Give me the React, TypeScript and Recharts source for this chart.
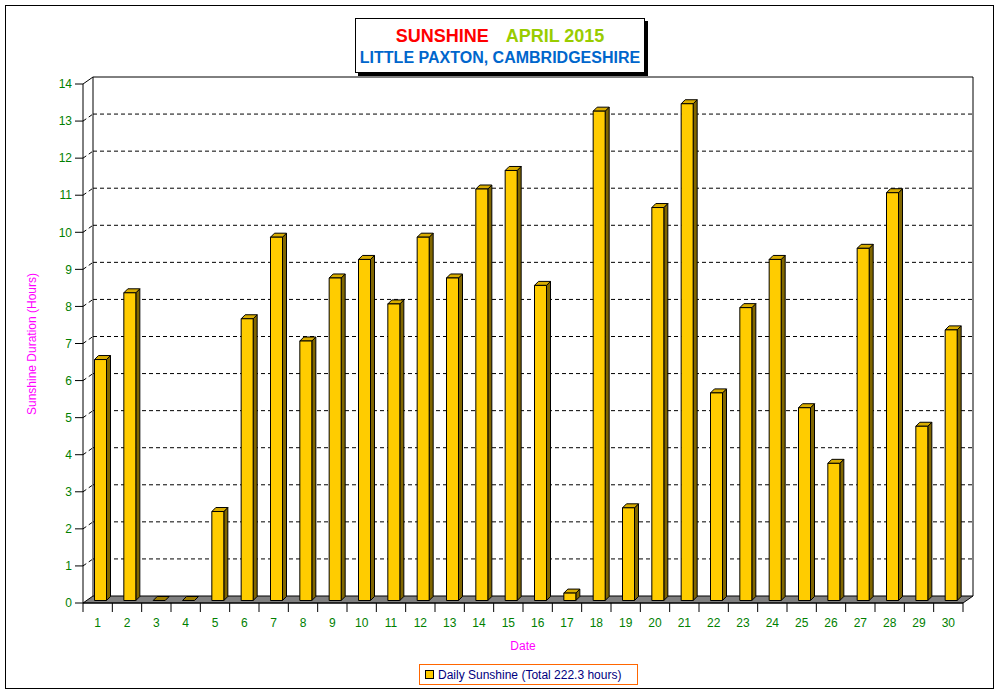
import React from "react";
import {
  BarChart,
  Bar,
  XAxis,
  YAxis,
  CartesianGrid,
  Legend,
} from "recharts";

const days = [
  "1", "2", "3", "4", "5", "6", "7", "8", "9", "10",
  "11", "12", "13", "14", "15", "16", "17", "18", "19", "20",
  "21", "22", "23", "24", "25", "26", "27", "28", "29", "30",
];

// daily sunshine hours
const sunshine = [
  6.5, 8.3, 0, 0, 2.4, 7.6, 9.8, 7.0, 8.7, 9.2,
  8.0, 9.8, 8.7, 11.1, 11.6, 8.5, 0.2, 13.2, 2.5, 10.6,
  13.4, 5.6, 7.9, 9.2, 5.2, 3.7, 9.5, 11.0, 4.7, 7.3,
];

const yTicks = [0, 1, 2, 3, 4, 5, 6, 7, 8, 9, 10, 11, 12, 13, 14];

const seriesName = "Daily Sunshine (Total 222.3 hours)";

const data = days.map((d, i) => ({ day: d, hours: sunshine[i] }));

// layout
const W = 1001;
const H = 694;
const PLOT_LEFT = 83;
const PLOT_RIGHT = 963;
const PLOT_TOP = 84;
const PLOT_BOTTOM = 603;
const DX = 10; // back wall offset
const DY = 7;
const BAND = (PLOT_RIGHT - PLOT_LEFT) / days.length;
const FONT = "'Liberation Sans', Arial, sans-serif";
const GREEN = "#008000";
const MAGENTA = "#FF00FF";

// 3D-looking bar: front face, top face, side face
function Bar3D(props: any) {
  const { x = 0, y = 0, width = 0, height = 0 } = props;
  const d = 4;
  const X = x + 2.5;
  const top = y - 2.5;
  const bottom = y + height - 2.5;
  const h = bottom - top;
  const flat = h < 1;
  return (
    <g stroke="#000" strokeWidth={1} strokeLinejoin="round">
      {!flat && (
        <polygon
          points={`${X + width},${top} ${X + width + d},${top - d} ${X + width + d},${bottom - d} ${X + width},${bottom}`}
          fill="#806600"
        />
      )}
      <polygon
        points={`${X},${top} ${X + d},${top - d} ${X + width + d},${top - d} ${X + width},${top}`}
        fill={flat ? "#9C7C00" : "#D9AD00"}
      />
      {!flat && <rect x={X} y={top} width={width} height={h} fill="#FFCC00" />}
    </g>
  );
}

// grid on the back wall, plus the wall outline and grey floor
function GridLine(p: any) {
  const { y1 } = p;
  if (Math.abs(y1 - PLOT_BOTTOM) < 1) {
    return (
      <g key={p.key}>
        <line x1={PLOT_LEFT + DX} y1={PLOT_TOP - DY} x2={PLOT_LEFT + DX} y2={PLOT_BOTTOM - DY} stroke="#000" />
        <line x1={PLOT_RIGHT + DX} y1={PLOT_TOP - DY} x2={PLOT_RIGHT + DX} y2={PLOT_BOTTOM - DY} stroke="#000" />
        <polygon
          points={`${PLOT_LEFT},${PLOT_BOTTOM} ${PLOT_RIGHT},${PLOT_BOTTOM} ${PLOT_RIGHT + DX},${PLOT_BOTTOM - DY} ${PLOT_LEFT + DX},${PLOT_BOTTOM - DY}`}
          fill="#808080"
          stroke="#000"
        />
      </g>
    );
  }
  const solid = Math.abs(y1 - PLOT_TOP) < 1;
  const dash = solid ? undefined : "4 3";
  return (
    <g key={p.key}>
      <line x1={PLOT_LEFT} y1={y1} x2={PLOT_LEFT + DX} y2={y1 - DY} stroke="#000" strokeDasharray={dash} />
      <line x1={PLOT_LEFT + DX} y1={y1 - DY} x2={PLOT_RIGHT + DX} y2={y1 - DY} stroke="#000" strokeDasharray={dash} />
    </g>
  );
}

function XTick(props: any) {
  const { x, payload, index } = props;
  const half = BAND / 2;
  return (
    <g>
      <line x1={x - half} y1={PLOT_BOTTOM} x2={x - half} y2={PLOT_BOTTOM + 9} stroke="#000" />
      {index === days.length - 1 && (
        <line x1={x + half} y1={PLOT_BOTTOM} x2={x + half} y2={PLOT_BOTTOM + 9} stroke="#000" />
      )}
      <text x={x} y={627} textAnchor="middle" fill={GREEN} fontSize={12} fontFamily={FONT}>
        {payload.value}
      </text>
    </g>
  );
}

function LegendBox() {
  return (
    <div
      style={{
        border: "1px solid #FF6600",
        height: 21,
        display: "flex",
        alignItems: "center",
        fontFamily: FONT,
        fontSize: 12,
        color: "#000080",
        boxSizing: "border-box",
        width: 219,
        paddingLeft: 5,
      }}
    >
      <span
        style={{
          display: "inline-block",
          width: 7,
          height: 7,
          background: "#FFCC00",
          border: "1px solid #000",
          marginRight: 4,
        }}
      />
      {seriesName}
    </div>
  );
}

export default function App() {
  return (
    <div style={{ position: "absolute", left: 0, top: 0, width: W, height: H, background: "#fff" }}>
      <div
        style={{
          position: "absolute",
          left: 5,
          top: 5,
          width: 989,
          height: 684,
          border: "1px solid #000",
          boxSizing: "border-box",
        }}
      />
      <div
        style={{
          position: "absolute",
          left: 355,
          top: 18,
          width: 290,
          height: 55,
          border: "1px solid #000",
          boxShadow: "3px 3px 0 #000",
          boxSizing: "border-box",
          background: "#fff",
          fontFamily: FONT,
          fontWeight: "bold",
          textAlign: "center",
        }}
      >
        <div style={{ fontSize: 18, lineHeight: "20px", marginTop: 7 }}>
          <span style={{ color: "#FF0000" }}>SUNSHINE</span>
          <span style={{ color: "#99CC00", marginLeft: 17 }}>APRIL 2015</span>
        </div>
        <div style={{ fontSize: 16, lineHeight: "20px", marginTop: 2, color: "#0066CC" }}>
          LITTLE PAXTON, CAMBRIDGESHIRE
        </div>
      </div>
      <BarChart
        width={W}
        height={H}
        data={data}
        margin={{ top: PLOT_TOP, right: W - PLOT_RIGHT, bottom: H - PLOT_BOTTOM - 30, left: 0 }}
        barSize={12}
        style={{ position: "absolute", left: 0, top: 0 }}
      >
        <CartesianGrid vertical={false} horizontal={GridLine} fill="none" />
        <XAxis
          dataKey="day"
          height={30}
          interval={0}
          tick={<XTick />}
          tickLine={false}
          axisLine={{ stroke: "#000" }}
          label={(lp: any) => (
            <text
              x={(PLOT_LEFT + PLOT_RIGHT) / 2}
              y={650}
              textAnchor="middle"
              fill={MAGENTA}
              fontSize={12}
              fontFamily={FONT}
            >
              Date
            </text>
          )}
        />
        <YAxis
          width={PLOT_LEFT}
          domain={[0, 14]}
          ticks={yTicks}
          interval={0}
          tickSize={8}
          tickMargin={3}
          tickLine={{ stroke: "#000" }}
          axisLine={{ stroke: "#000" }}
          tick={{ fill: GREEN, fontSize: 12, fontFamily: FONT }}
          label={(lp: any) => (
            <text
              x={36}
              y={344}
              transform="rotate(-90 36 344)"
              textAnchor="middle"
              fill={MAGENTA}
              fontSize={12}
              fontFamily={FONT}
            >
              Sunshine Duration (Hours)
            </text>
          )}
        />
        <Legend
          layout="horizontal"
          verticalAlign="middle"
          align="center"
          content={<LegendBox />}
          wrapperStyle={{ left: 419, top: 664, width: 219, height: 21 }}
        />
        <Bar dataKey="hours" name={seriesName} shape={<Bar3D />} isAnimationActive={false} />
      </BarChart>
    </div>
  );
}
